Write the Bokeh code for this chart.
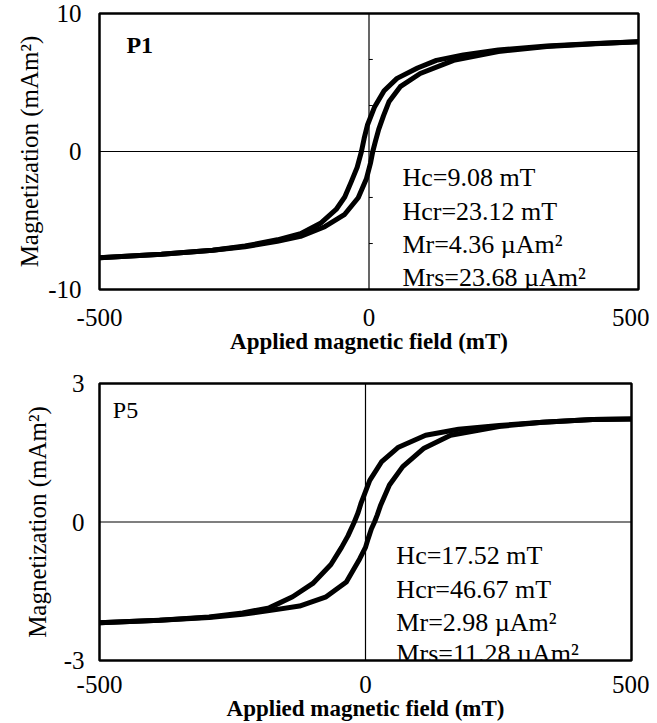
from bokeh.plotting import figure
from bokeh.layouts import column
from bokeh.models import Range1d, Span, Label, FixedTicker
from bokeh.embed import file_html
from bokeh.resources import INLINE

# ---------------- data ----------------
# P1: descending branch (+500 -> -500) and ascending branch (-500 -> +500)
p1_desc_field = [500, 420, 330, 240, 175, 125, 90, 52, 28, 10, -3, -9, -14, -22, -33, -45, -61, -90, -127, -170, -230, -290, -385, -500]
p1_desc_mag = [7.95, 7.82, 7.65, 7.35, 7.0, 6.6, 6.05, 5.3, 4.4, 3.2, 1.9, 0.95, 0.0, -1.15, -2.2, -3.3, -4.2, -5.2, -5.95, -6.4, -6.85, -7.15, -7.45, -7.7]
p1_asc_field = [-500, -385, -290, -230, -170, -127, -82, -45, -20, -5, 3, 7, 12, 18, 27, 37, 58, 95, 157, 240, 330, 420, 500]
p1_asc_mag = [-7.7, -7.45, -7.15, -6.9, -6.5, -6.15, -5.45, -4.55, -3.35, -2.0, -0.8, 0.0, 0.75, 1.6, 2.6, 3.6, 4.7, 5.65, 6.6, 7.25, 7.6, 7.8, 7.95]

# P5
p5_desc_field = [500, 427, 333, 251, 175, 113, 62, 30, 8, -2, -8, -14, -21, -33, -45, -65, -99, -137, -181, -231, -294, -387, -500]
p5_desc_mag = [2.23, 2.22, 2.16, 2.09, 2.01, 1.88, 1.62, 1.3, 0.9, 0.6, 0.42, 0.2, 0.0, -0.3, -0.55, -0.92, -1.33, -1.62, -1.86, -1.97, -2.06, -2.13, -2.18]
p5_asc_field = [-500, -387, -294, -231, -181, -124, -74, -36, -11, 0, 5, 11, 17, 22, 28, 45, 70, 110, 160, 251, 333, 427, 500]
p5_asc_mag = [-2.18, -2.13, -2.07, -2.0, -1.92, -1.82, -1.62, -1.3, -0.8, -0.55, -0.36, -0.15, 0.0, 0.15, 0.35, 0.8, 1.2, 1.6, 1.88, 2.07, 2.16, 2.22, 2.23]

x_ticks = [-500, 0, 500]
x_tick_labels = ["-500", "0", "500"]
p1_y_ticks = [-10, 0, 10]
p1_y_tick_labels = ["-10", "0", "10"]
p5_y_ticks = [-3, 0, 3]
p5_y_tick_labels = ["-3", "0", "3"]
p1_center_ticks = [-6.67, -3.33, 3.33, 6.67]

p1_params = ["Hc=9.08 mT", "Hcr=23.12 mT", "Mr=4.36 \u00b5Am\u00b2", "Mrs=23.68 \u00b5Am\u00b2"]
p5_params = ["Hc=17.52 mT", "Hcr=46.67 mT", "Mr=2.98 \u00b5Am\u00b2", "Mrs=11.28 \u00b5Am\u00b2"]

x_title = "Applied magnetic field (mT)"
y_title = "Magnetization (mAm\u00b2)"

SERIF = "Liberation Serif"


def make_panel(name, name_style, dx, dy, ax, ay, ymax, yticks, ylabels, params,
               center_ticks, lay):
    p = figure(frame_width=lay["fw"], frame_height=lay["fh"],
               min_border_left=lay["bl"], min_border_right=lay["br"],
               min_border_top=lay["bt"], min_border_bottom=0,
               x_range=Range1d(-500, 500), y_range=Range1d(-ymax, ymax),
               output_backend="svg", toolbar_location=None)
    p.xgrid.visible = False
    p.ygrid.visible = False
    p.outline_line_color = "black"
    p.outline_line_width = 2.5
    p.outline_line_alpha = 1.0
    p.background_fill_color = "white"
    p.border_fill_color = "white"

    ya = p.yaxis[0]
    ya.ticker = FixedTicker(ticks=yticks)
    ya.major_label_overrides = {v: s for v, s in zip(yticks, ylabels)}
    ya.axis_line_color = None
    ya.major_tick_line_color = None
    ya.minor_tick_line_color = None
    ya.major_label_text_font = SERIF
    ya.major_label_text_font_size = "25px"
    ya.major_label_text_color = "black"
    ya.major_label_standoff = lay["ystand"]
    ya.axis_label = y_title
    ya.axis_label_text_font = SERIF
    ya.axis_label_text_font_size = "25px"
    ya.axis_label_text_font_style = "normal"
    ya.axis_label_text_color = "black"
    ya.axis_label_standoff = lay["lstand"]

    xa = p.xaxis[0]
    xa.ticker = FixedTicker(ticks=x_ticks)
    xa.major_label_overrides = {v: s for v, s in zip(x_ticks, x_tick_labels)}
    xa.axis_line_color = None
    xa.major_tick_line_color = None
    xa.minor_tick_line_color = None
    xa.major_label_text_font = SERIF
    xa.major_label_text_font_size = "25px"
    xa.major_label_text_color = "black"
    xa.major_label_standoff = lay["xstand"]
    xa.axis_label = x_title
    xa.axis_label_text_font = SERIF
    xa.axis_label_text_font_size = "23px"
    xa.axis_label_text_font_style = "bold"
    xa.axis_label_text_color = "black"
    xa.axis_label_standoff = 0

    p.add_layout(Span(location=0, dimension="width", line_color="black", line_width=1.2))
    p.add_layout(Span(location=0, dimension="height", line_color="black", line_width=1.2))
    if center_ticks:
        p.segment(x0=[0] * len(center_ticks), y0=center_ticks,
                  x1=[7] * len(center_ticks), y1=center_ticks,
                  line_color="black", line_width=1)

    p.line(dx, dy, line_color="black", line_width=5, line_join="round", line_cap="round")
    p.line(ax, ay, line_color="black", line_width=5, line_join="round", line_cap="round")

    for t, yy in zip(params, lay["param_y"]):
        p.add_layout(Label(x=lay["param_x"], y=yy, text=t, text_align="left",
                           text_baseline="alphabetic", text_font=SERIF,
                           text_font_size="26px", text_color="black"))
    p.add_layout(Label(x=lay["name_x"], y=lay["name_y"], text=name, text_align="left",
                       text_baseline="alphabetic", text_font=SERIF, text_font_size="24px",
                       text_font_style=name_style, text_color="black"))
    return p


lay1 = dict(fw=539, fh=276, bl=92, br=18, bt=13, ystand=12, lstand=2, xstand=13,
            param_x=62, param_y=[-1.87, -4.35, -6.75, -9.15], name_x=-450, name_y=7.7)
lay2 = dict(fw=532, fh=277, bl=99, br=18, bt=27, ystand=9, lstand=10, xstand=9,
            param_x=58, param_y=[-0.72, -1.47, -2.18, -2.84], name_x=-475, name_y=2.42)

p1 = make_panel("P1", "bold", p1_desc_field, p1_desc_mag, p1_asc_field, p1_asc_mag,
                10, p1_y_ticks, p1_y_tick_labels, p1_params, p1_center_ticks, lay1)
p5 = make_panel("P5", "normal", p5_desc_field, p5_desc_mag, p5_asc_field, p5_asc_mag,
                3, p5_y_ticks, p5_y_tick_labels, p5_params, [], lay2)

layout = column(p1, p5, spacing=0)
open("out.html", "w").write(file_html(layout, INLINE))
